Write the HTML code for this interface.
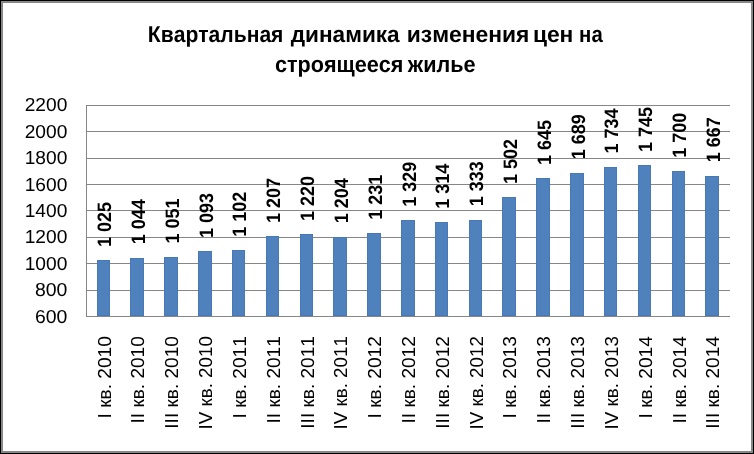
<!DOCTYPE html>
<html><head><meta charset="utf-8"><style>
html,body{margin:0;padding:0;background:#fff;}
body{width:754px;height:454px;overflow:hidden;position:relative;}
svg{position:absolute;left:0;top:0;will-change:transform;}
text{font-family:"Liberation Sans",sans-serif;fill:#000;font-kerning:none;text-rendering:geometricPrecision;}
.g{stroke:#868686;stroke-width:1;}
.b{fill:#4F81BD;stroke:#4878B8;stroke-width:1;}
.yl{font-size:18.8px;text-anchor:end;}
.xl{font-size:18.8px;text-anchor:end;}
.dl{font-size:19.4px;font-weight:bold;}
.t{font-size:22.8px;font-weight:bold;}
</style></head><body>
<svg width="754" height="454" viewBox="0 0 754 454">
<rect x="0" y="0" width="754" height="454" fill="#000"/>
<rect x="1" y="1" width="752" height="452" fill="#888"/>
<rect x="3" y="3" width="748" height="448" fill="#fff"/>
<g transform="translate(0,42) scale(1,1.0)"><text x="147.83" y="0" class="t" textLength="135.58" lengthAdjust="spacingAndGlyphs">Квартальная</text><text x="290.70" y="0" class="t" textLength="109.01" lengthAdjust="spacingAndGlyphs">динамика</text><text x="406.80" y="0" class="t" textLength="122.64" lengthAdjust="spacingAndGlyphs">изменения</text><text x="532.90" y="0" class="t" textLength="40.47" lengthAdjust="spacingAndGlyphs">цен</text><text x="579.12" y="0" class="t" textLength="23.60" lengthAdjust="spacingAndGlyphs">на</text></g>
<g transform="translate(0,72) scale(1,1.0)"><text x="274.95" y="0" class="t" textLength="128.44" lengthAdjust="spacingAndGlyphs">строящееся</text><text x="407.80" y="0" class="t" textLength="67.74" lengthAdjust="spacingAndGlyphs">жилье</text></g>
<line x1="86" y1="316.5" x2="730" y2="316.5" class="g"/>
<text x="67.3" y="322.5" class="yl" textLength="32.4" lengthAdjust="spacingAndGlyphs">600</text>
<line x1="86" y1="290.5" x2="730" y2="290.5" class="g"/>
<text x="67.3" y="296.0" class="yl" textLength="32.4" lengthAdjust="spacingAndGlyphs">800</text>
<line x1="86" y1="263.5" x2="730" y2="263.5" class="g"/>
<text x="67.3" y="269.6" class="yl" textLength="42.6" lengthAdjust="spacingAndGlyphs">1000</text>
<line x1="86" y1="237.5" x2="730" y2="237.5" class="g"/>
<text x="67.3" y="243.0" class="yl" textLength="42.6" lengthAdjust="spacingAndGlyphs">1200</text>
<line x1="86" y1="210.5" x2="730" y2="210.5" class="g"/>
<text x="67.3" y="217.1" class="yl" textLength="42.6" lengthAdjust="spacingAndGlyphs">1400</text>
<line x1="86" y1="184.5" x2="730" y2="184.5" class="g"/>
<text x="67.3" y="191.0" class="yl" textLength="42.6" lengthAdjust="spacingAndGlyphs">1600</text>
<line x1="86" y1="158.5" x2="730" y2="158.5" class="g"/>
<text x="67.3" y="163.6" class="yl" textLength="42.6" lengthAdjust="spacingAndGlyphs">1800</text>
<line x1="86" y1="131.5" x2="730" y2="131.5" class="g"/>
<text x="67.3" y="138.0" class="yl" textLength="42.6" lengthAdjust="spacingAndGlyphs">2000</text>
<line x1="86" y1="105.5" x2="730" y2="105.5" class="g"/>
<text x="67.3" y="110.7" class="yl" textLength="42.6" lengthAdjust="spacingAndGlyphs">2200</text>
<line x1="86.5" y1="105" x2="86.5" y2="317" class="g"/>
<rect x="97.5" y="260.5" width="12" height="55" class="b"/>
<rect x="130.5" y="258.5" width="13" height="57" class="b"/>
<rect x="164.5" y="257.5" width="13" height="58" class="b"/>
<rect x="198.5" y="251.5" width="13" height="64" class="b"/>
<rect x="232.5" y="250.5" width="12" height="65" class="b"/>
<rect x="266.5" y="236.5" width="12" height="79" class="b"/>
<rect x="300.5" y="234.5" width="12" height="81" class="b"/>
<rect x="333.5" y="237.5" width="13" height="78" class="b"/>
<rect x="367.5" y="233.5" width="13" height="82" class="b"/>
<rect x="401.5" y="220.5" width="13" height="95" class="b"/>
<rect x="435.5" y="222.5" width="12" height="93" class="b"/>
<rect x="469.5" y="220.5" width="12" height="95" class="b"/>
<rect x="502.5" y="197.5" width="13" height="118" class="b"/>
<rect x="536.5" y="178.5" width="13" height="137" class="b"/>
<rect x="570.5" y="173.5" width="13" height="142" class="b"/>
<rect x="604.5" y="167.5" width="12" height="148" class="b"/>
<rect x="638.5" y="165.5" width="12" height="150" class="b"/>
<rect x="672.5" y="171.5" width="12" height="144" class="b"/>
<rect x="705.5" y="176.5" width="13" height="139" class="b"/>
<line x1="86" y1="316.5" x2="730" y2="316.5" class="g"/>
<line x1="86.5" y1="105" x2="86.5" y2="317" class="g"/>
<text transform="translate(111.3,246.9) rotate(-90)" class="dl" textLength="45" lengthAdjust="spacingAndGlyphs">1 025</text>
<text transform="translate(110.8,336.2) rotate(-90)" class="xl" textLength="82.3" lengthAdjust="spacingAndGlyphs">I кв. 2010</text>
<text transform="translate(144.8,244.3) rotate(-90)" class="dl" textLength="45" lengthAdjust="spacingAndGlyphs">1 044</text>
<text transform="translate(144.3,336.2) rotate(-90)" class="xl" textLength="87.3" lengthAdjust="spacingAndGlyphs">II кв. 2010</text>
<text transform="translate(178.8,243.4) rotate(-90)" class="dl" textLength="45" lengthAdjust="spacingAndGlyphs">1 051</text>
<text transform="translate(178.3,336.2) rotate(-90)" class="xl" textLength="92.5" lengthAdjust="spacingAndGlyphs">III кв. 2010</text>
<text transform="translate(212.8,237.9) rotate(-90)" class="dl" textLength="45" lengthAdjust="spacingAndGlyphs">1 093</text>
<text transform="translate(212.3,336.2) rotate(-90)" class="xl" textLength="93.2" lengthAdjust="spacingAndGlyphs">IV кв. 2010</text>
<text transform="translate(246.3,236.7) rotate(-90)" class="dl" textLength="45" lengthAdjust="spacingAndGlyphs">1 102</text>
<text transform="translate(245.8,336.2) rotate(-90)" class="xl" textLength="82.3" lengthAdjust="spacingAndGlyphs">I кв. 2011</text>
<text transform="translate(280.3,222.9) rotate(-90)" class="dl" textLength="45" lengthAdjust="spacingAndGlyphs">1 207</text>
<text transform="translate(279.8,336.2) rotate(-90)" class="xl" textLength="87.3" lengthAdjust="spacingAndGlyphs">II кв. 2011</text>
<text transform="translate(314.3,221.1) rotate(-90)" class="dl" textLength="45" lengthAdjust="spacingAndGlyphs">1 220</text>
<text transform="translate(313.8,336.2) rotate(-90)" class="xl" textLength="92.5" lengthAdjust="spacingAndGlyphs">III кв. 2011</text>
<text transform="translate(347.8,223.2) rotate(-90)" class="dl" textLength="45" lengthAdjust="spacingAndGlyphs">1 204</text>
<text transform="translate(347.3,336.2) rotate(-90)" class="xl" textLength="93.2" lengthAdjust="spacingAndGlyphs">IV кв. 2011</text>
<text transform="translate(381.8,219.7) rotate(-90)" class="dl" textLength="45" lengthAdjust="spacingAndGlyphs">1 231</text>
<text transform="translate(381.3,336.2) rotate(-90)" class="xl" textLength="82.3" lengthAdjust="spacingAndGlyphs">I кв. 2012</text>
<text transform="translate(415.8,206.8) rotate(-90)" class="dl" textLength="45" lengthAdjust="spacingAndGlyphs">1 329</text>
<text transform="translate(415.3,336.2) rotate(-90)" class="xl" textLength="87.3" lengthAdjust="spacingAndGlyphs">II кв. 2012</text>
<text transform="translate(449.3,208.7) rotate(-90)" class="dl" textLength="45" lengthAdjust="spacingAndGlyphs">1 314</text>
<text transform="translate(448.8,336.2) rotate(-90)" class="xl" textLength="92.5" lengthAdjust="spacingAndGlyphs">III кв. 2012</text>
<text transform="translate(483.3,206.2) rotate(-90)" class="dl" textLength="45" lengthAdjust="spacingAndGlyphs">1 333</text>
<text transform="translate(482.8,336.2) rotate(-90)" class="xl" textLength="93.2" lengthAdjust="spacingAndGlyphs">IV кв. 2012</text>
<text transform="translate(516.8,183.9) rotate(-90)" class="dl" textLength="45" lengthAdjust="spacingAndGlyphs">1 502</text>
<text transform="translate(516.3,336.2) rotate(-90)" class="xl" textLength="82.3" lengthAdjust="spacingAndGlyphs">I кв. 2013</text>
<text transform="translate(550.8,165.1) rotate(-90)" class="dl" textLength="45" lengthAdjust="spacingAndGlyphs">1 645</text>
<text transform="translate(550.3,336.2) rotate(-90)" class="xl" textLength="87.3" lengthAdjust="spacingAndGlyphs">II кв. 2013</text>
<text transform="translate(584.8,159.3) rotate(-90)" class="dl" textLength="45" lengthAdjust="spacingAndGlyphs">1 689</text>
<text transform="translate(584.3,336.2) rotate(-90)" class="xl" textLength="92.5" lengthAdjust="spacingAndGlyphs">III кв. 2013</text>
<text transform="translate(618.3,153.4) rotate(-90)" class="dl" textLength="45" lengthAdjust="spacingAndGlyphs">1 734</text>
<text transform="translate(617.8,336.2) rotate(-90)" class="xl" textLength="93.2" lengthAdjust="spacingAndGlyphs">IV кв. 2013</text>
<text transform="translate(652.3,151.9) rotate(-90)" class="dl" textLength="45" lengthAdjust="spacingAndGlyphs">1 745</text>
<text transform="translate(651.8,336.2) rotate(-90)" class="xl" textLength="82.3" lengthAdjust="spacingAndGlyphs">I кв. 2014</text>
<text transform="translate(686.3,157.8) rotate(-90)" class="dl" textLength="45" lengthAdjust="spacingAndGlyphs">1 700</text>
<text transform="translate(685.8,336.2) rotate(-90)" class="xl" textLength="87.3" lengthAdjust="spacingAndGlyphs">II кв. 2014</text>
<text transform="translate(719.8,162.2) rotate(-90)" class="dl" textLength="45" lengthAdjust="spacingAndGlyphs">1 667</text>
<text transform="translate(719.3,336.2) rotate(-90)" class="xl" textLength="92.5" lengthAdjust="spacingAndGlyphs">III кв. 2014</text>
</svg>
</body></html>
